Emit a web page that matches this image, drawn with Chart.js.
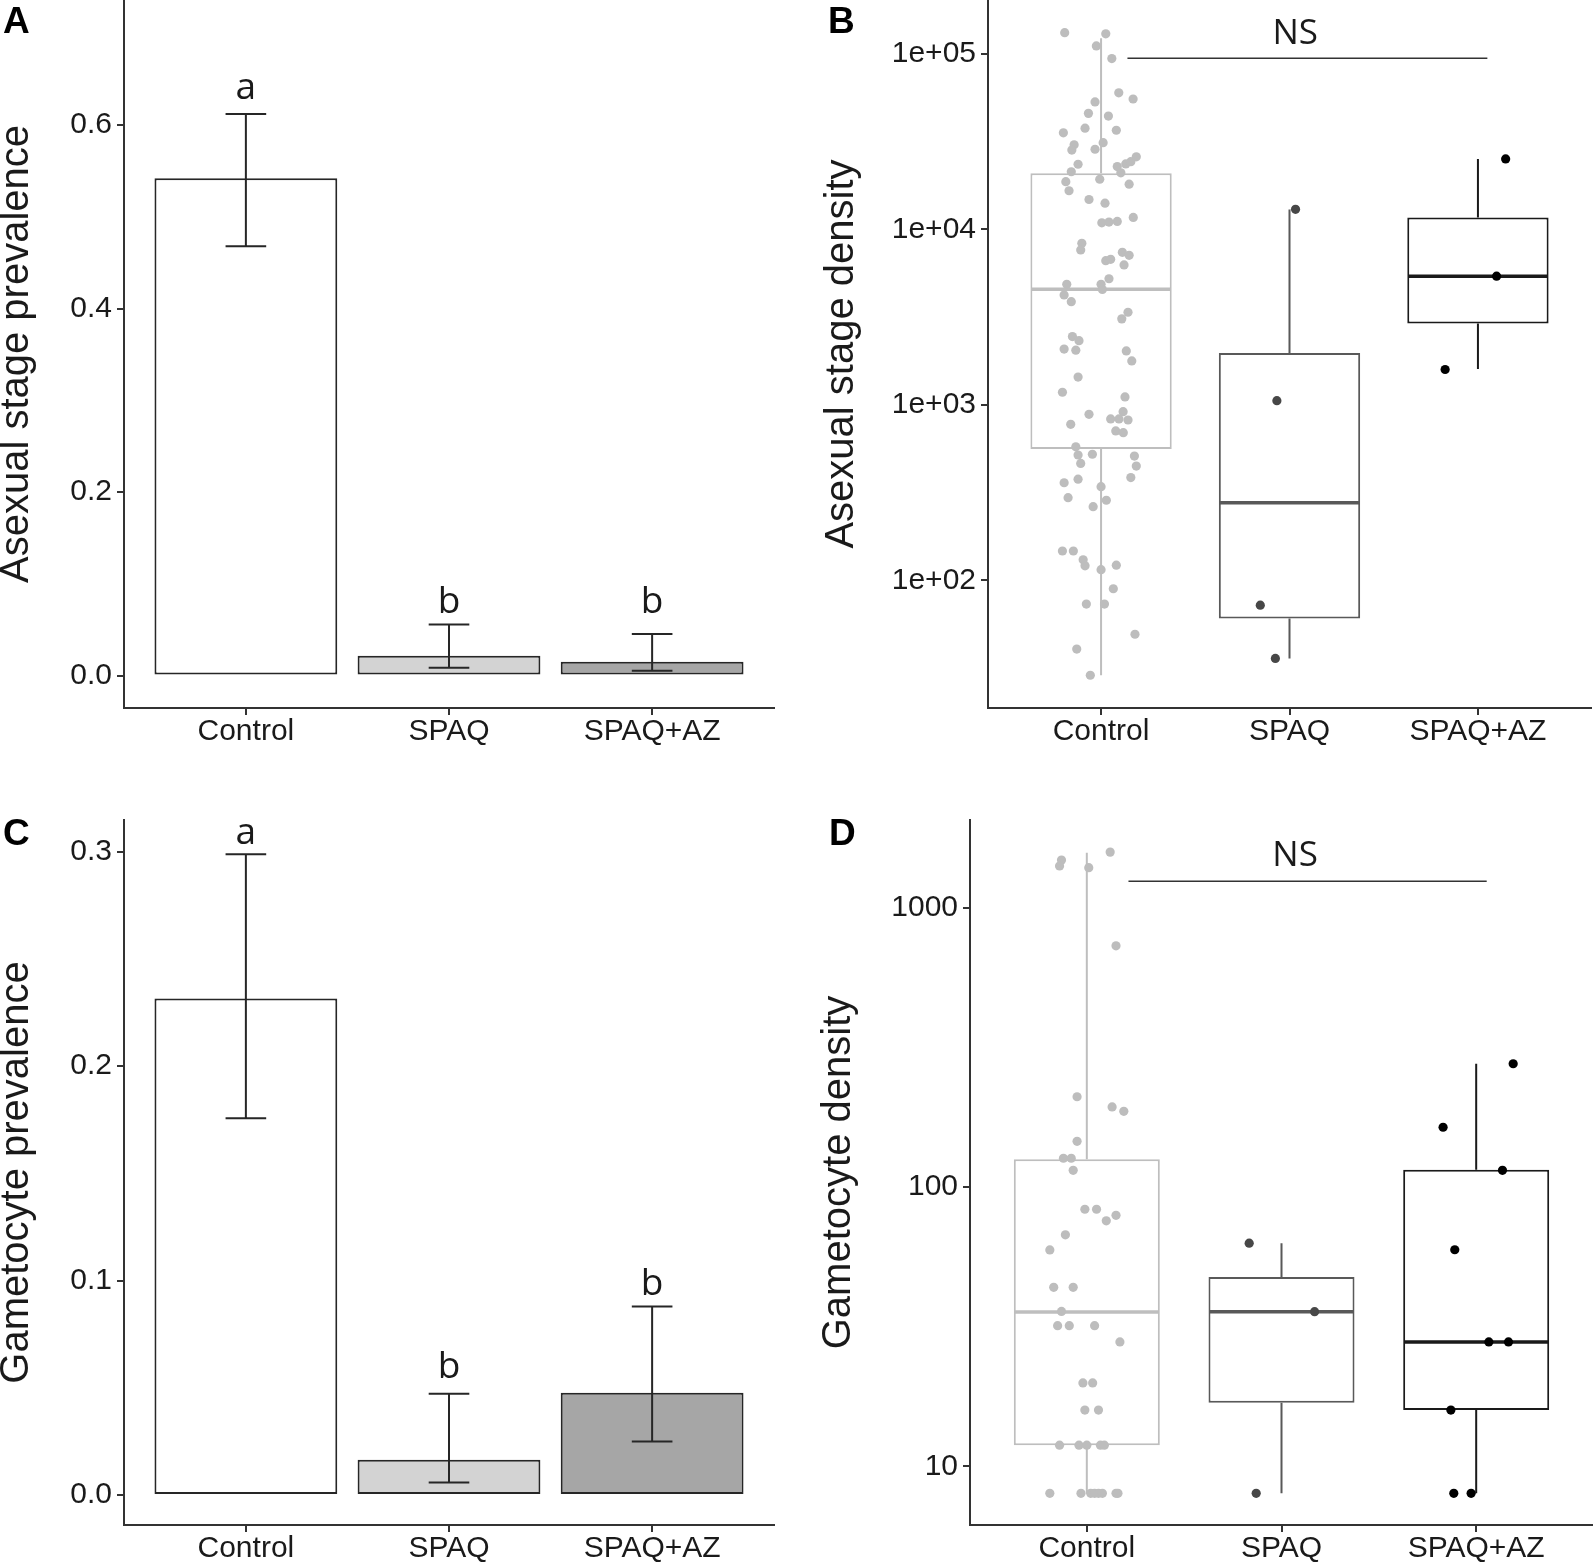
<!DOCTYPE html>
<html>
<head>
<meta charset="utf-8">
<script src="https://cdn.jsdelivr.net/npm/chart.js@4.4.0/dist/chart.umd.min.js"></script>
<style>
  html, body { margin: 0; padding: 0; background: #fff; }
  #wrap { position: relative; width: 1593px; height: 1566px; }
  canvas { position: absolute; }
</style>
</head>
<body>
<div id="wrap">
  <canvas id="panelA" width="796" height="783" style="left:0;top:0"></canvas>
  <canvas id="panelB" width="797" height="783" style="left:796px;top:0"></canvas>
  <canvas id="panelC" width="796" height="783" style="left:0;top:783px"></canvas>
  <canvas id="panelD" width="797" height="783" style="left:796px;top:783px"></canvas>
</div>
<script>
const groups = ['Control', 'SPAQ', 'SPAQ+AZ'];

// A: asexual stage prevalence
const asexPrev = [0.542, 0.0216, 0.0151];
const asexPrevLow = [0.468, 0.0086, 0.0054];
const asexPrevHigh = [0.612, 0.0557, 0.0454];
const asexLetters = ['a', 'b', 'b'];
const asexLetterY = [0.628, 0.068, 0.068];
const asexPrevTicks = [0, 0.2, 0.4, 0.6];
const asexPrevTickLabels = ['0.0', '0.2', '0.4', '0.6'];

// C: gametocyte prevalence
const gamPrev = [0.2315, 0.0164, 0.0477];
const gamPrevLow = [0.1757, 0.0058, 0.025];
const gamPrevHigh = [0.2988, 0.0472, 0.0879];
const gamLetters = ['a', 'b', 'b'];
const gamLetterY = [0.3035, 0.0547, 0.0932];
const gamPrevTicks = [0, 0.1, 0.2, 0.3];
const gamPrevTickLabels = ['0.0', '0.1', '0.2', '0.3'];

// B: asexual stage density (box stats per group)
const asexDensMin = [28.8, 35.9, 1600];
const asexDensQ1 = [560, 60.6, 2906];
const asexDensMed = [4560, 277, 5410];
const asexDensQ3 = [20900, 1977, 11680];
const asexDensMax = [122600, 12960, 25200];
const asexDensControl = [132000, 130000, 111000, 94000, 60000, 55300, 53200, 45800, 44200, 37700,
  36700, 35500, 30300, 28300, 31200, 28600, 23500, 21300, 22800, 23600,
  24300, 25900, 21000, 19300, 18700, 16600, 18100, 14800, 14100, 10900,
  11000, 11100, 11700, 8330, 7630, 6630, 6750, 7400, 7110, 6270,
  5230, 4860, 4860, 4550, 4230, 3870, 3370, 3090, 2450, 2320,
  2080, 2050, 2030, 1780, 1440, 1180, 1110, 883, 775, 914,
  831, 831, 820, 710, 694, 577, 518, 464, 523, 511,
  448, 385, 360, 377, 342, 296, 286, 263, 147, 147,
  131, 121, 115, 122, 89.6, 73.3, 73.3, 49.3, 40.6, 28.8];
const asexDensControlJit = [-0.193, 0.025, -0.025, 0.057, 0.094, 0.170, -0.032, -0.067, 0.039, -0.085,
  0.081, -0.200, -0.143, -0.155, 0.011, -0.032, -0.122, -0.158, 0.086, 0.131,
  0.158, 0.187, 0.105, -0.007, -0.187, -0.170, 0.149, -0.064, 0.021, 0.004,
  0.042, 0.086, 0.171, -0.102, -0.108, 0.025, 0.051, 0.113, 0.149, 0.122,
  0.042, -0.182, 0, 0.007, -0.196, -0.158, 0.143, 0.110, -0.152, -0.117,
  -0.196, -0.134, 0.134, 0.163, -0.122, -0.205, 0.127, -0.064, -0.161, 0.117,
  0.051, 0.095, 0.143, 0.078, 0.118, -0.134, -0.122, -0.108, -0.046, 0.177,
  0.187, 0.158, -0.196, -0.122, 0, -0.175, 0.028, -0.042, -0.205, -0.147,
  -0.095, -0.085, 0, 0.081, 0.065, -0.078, 0.018, 0.180, -0.129, -0.057];
const asexDensSpaq = [13000, 1057, 72.2, 35.9];
const asexDensSpaqJit = [0.032, -0.067, -0.155, -0.075];
const asexDensSpaqAz = [25200, 5410, 1590];
const asexDensSpaqAzJit = [0.147, 0.099, -0.174];
const asexDensTicks = [100, 1000, 10000, 100000];
const asexDensTickLabels = ['1e+02', '1e+03', '1e+04', '1e+05'];

// D: gametocyte density
const gamDensMin = [8, 8, 8];
const gamDensQ1 = [11.9, 16.9, 15.9];
const gamDensMed = [35.7, 35.8, 27.9];
const gamDensQ3 = [126, 47.7, 115.6];
const gamDensMax = [1580, 63, 277];
const gamDensControl = [1487, 1416, 1397, 1588, 733, 211, 194, 187, 146, 127,
  127, 115, 83.4, 83.4, 75.8, 79.3, 67.5, 59.6, 43.8, 43.8,
  35.9, 31.9, 31.9, 31.9, 27.9, 19.9, 19.9, 15.9, 15.9, 11.9,
  11.9, 11.9, 11.9, 11.9, 8, 8, 8, 8, 8, 8, 8, 8];
const gamDensControlJit = [-0.13, -0.14, 0.01, 0.12, 0.15, -0.05, 0.13, 0.19, -0.05, -0.12,
  -0.08, -0.07, -0.01, 0.05, 0.10, 0.15, -0.11, -0.19, -0.17, -0.07,
  -0.13, -0.15, -0.09, 0.04, 0.17, -0.02, 0.03, -0.01, 0.06, -0.14,
  -0.04, 0, 0.07, 0.09, -0.19, -0.03, 0.02, 0.04, 0.06, 0.08, 0.15, 0.16];
const gamDensSpaq = [63, 35.8, 8];
const gamDensSpaqJit = [-0.166, 0.17, -0.13];
const gamDensSpaqAz = [277, 164, 115, 59.7, 27.9, 27.9, 15.9, 8, 8];
const gamDensSpaqAzJit = [0.19, -0.17, 0.135, -0.11, 0.065, 0.166, -0.13, -0.115, -0.026];
const gamDensTicks = [10, 100, 1000];
const gamDensTickLabels = ['10', '100', '1000'];

Chart.defaults.font.family = '"Liberation Sans", Arial, sans-serif';
Chart.defaults.color = '#1a1a1a';

const axisColor = '#333333';

const panelLabel = {
  id: 'panelLabel',
  afterDraw(chart, args, opts) {
    const ctx = chart.ctx;
    ctx.save();
    ctx.fillStyle = '#000';
    ctx.font = 'bold 37px "Liberation Sans", Arial, sans-serif';
    ctx.textAlign = 'left';
    ctx.textBaseline = 'alphabetic';
    ctx.fillText(opts.text, opts.x, opts.y);
    ctx.restore();
  }
};

// error bars and significance letters for the bar panels
const errorBars = {
  id: 'errorBars',
  afterDatasetsDraw(chart, args, opts) {
    const { ctx, scales: { x, y } } = chart;
    ctx.save();
    ctx.strokeStyle = '#262626';
    ctx.lineWidth = 2;
    opts.low.forEach((lo, i) => {
      const cx = x.getPixelForValue(i);
      const half = x.getPixelForValue(i + 0.1) - cx;
      const y1 = y.getPixelForValue(lo);
      const y2 = y.getPixelForValue(opts.high[i]);
      ctx.beginPath();
      ctx.moveTo(cx, y1); ctx.lineTo(cx, y2);
      ctx.moveTo(cx - half, y1); ctx.lineTo(cx + half, y1);
      ctx.moveTo(cx - half, y2); ctx.lineTo(cx + half, y2);
      ctx.stroke();
    });
    ctx.fillStyle = '#1a1a1a';
    ctx.font = '37px "Open Sans", sans-serif';
    ctx.textAlign = 'center';
    ctx.textBaseline = 'alphabetic';
    opts.letters.forEach((t, i) => {
      ctx.fillText(t, x.getPixelForValue(i), y.getPixelForValue(opts.letterY[i]));
    });
    ctx.restore();
  }
};

// whiskers, medians and the NS bracket for the box panels
const boxParts = {
  id: 'boxParts',
  afterDatasetDraw(chart, args, opts) {
    if (args.index !== 0) return;
    const { ctx, scales: { x, y } } = chart;
    ctx.save();
    opts.med.forEach((m, i) => {
      const cx = x.getPixelForValue(i);
      const half = x.getPixelForValue(i + 0.375) - cx;
      ctx.strokeStyle = opts.colors[i];
      ctx.lineWidth = 2;
      ctx.beginPath();
      ctx.moveTo(cx, y.getPixelForValue(opts.q3[i])); ctx.lineTo(cx, y.getPixelForValue(opts.max[i]));
      ctx.moveTo(cx, y.getPixelForValue(opts.q1[i])); ctx.lineTo(cx, y.getPixelForValue(opts.min[i]));
      ctx.stroke();
      const my = y.getPixelForValue(m);
      ctx.lineWidth = 3.5;
      ctx.beginPath();
      ctx.moveTo(cx - half + 1, my); ctx.lineTo(cx + half - 1, my);
      ctx.stroke();
    });
    ctx.restore();
  },
  afterDatasetsDraw(chart, args, opts) {
    const { ctx, scales: { x, y } } = chart;
    const ns = opts.ns;
    ctx.save();
    ctx.strokeStyle = '#333';
    ctx.lineWidth = 1.6;
    const ly = y.getPixelForValue(ns.y);
    ctx.beginPath();
    ctx.moveTo(x.getPixelForValue(ns.x1), ly);
    ctx.lineTo(x.getPixelForValue(ns.x2), ly);
    ctx.stroke();
    ctx.fillStyle = '#1a1a1a';
    ctx.font = '35px "Open Sans", sans-serif';
    ctx.textAlign = 'center';
    ctx.textBaseline = 'alphabetic';
    ctx.fillText('NS', x.getPixelForValue(ns.textX), y.getPixelForValue(ns.textY));
    ctx.restore();
  }
};

function xAxis(height) {
  return {
    type: 'linear',
    min: -0.6,
    max: 2.6,
    offset: false,
    afterBuildTicks: a => { a.ticks = groups.map((g, i) => ({ value: i })); },
    afterFit: a => { a.height = height; a.paddingLeft = 0; a.paddingRight = 0; },
    ticks: {
      callback: v => groups[v],
      color: '#1a1a1a',
      font: { size: 30, lineHeight: 1 },
      padding: 2,
      maxRotation: 0,
      autoSkip: false
    },
    grid: { offset: false, drawOnChartArea: false, tickLength: 7, color: axisColor, lineWidth: 2 },
    border: { color: axisColor, width: 2 }
  };
}

function yAxis(type, min, max, ticks, labels, width, title, titlePad) {
  return {
    type: type,
    min: min,
    max: max,
    afterBuildTicks: a => { a.ticks = ticks.map(v => ({ value: v })); },
    afterFit: a => { a.width = width; a.paddingTop = 0; a.paddingBottom = 0; },
    ticks: {
      callback: (v, i) => labels[i],
      color: '#1a1a1a',
      font: { size: 30, lineHeight: 1 },
      padding: 5,
      autoSkip: false
    },
    grid: { drawOnChartArea: false, tickLength: 7, color: axisColor, lineWidth: 2 },
    border: { color: axisColor, width: 2 },
    title: {
      display: true,
      text: title,
      color: '#1a1a1a',
      font: { size: 40, lineHeight: 0.85 },
      padding: { top: titlePad, bottom: 0 }
    }
  };
}

function barPanel(id, p) {
  new Chart(document.getElementById(id), {
    type: 'bar',
    data: {
      datasets: [{
        data: p.values.map((v, i) => ({ x: i, y: v })),
        backgroundColor: ['#ffffff', '#d3d3d3', '#a6a6a6'],
        borderColor: '#262626',
        borderWidth: 2,
        borderSkipped: false,
        barPercentage: 0.9,
        categoryPercentage: 1.0
      }]
    },
    options: {
      responsive: false,
      devicePixelRatio: 1,
      animation: false,
      layout: { padding: p.padding, autoPadding: false },
      scales: {
        x: xAxis(p.xHeight),
        y: yAxis('linear', p.yMin, p.yMax, p.ticks, p.tickLabels, p.yWidth, p.title, p.titlePad)
      },
      plugins: {
        legend: { display: false },
        tooltip: { enabled: false },
        errorBars: { low: p.low, high: p.high, letters: p.letters, letterY: p.letterY },
        panelLabel: p.label
      }
    },
    plugins: [errorBars, panelLabel]
  });
}

function boxPanel(id, p) {
  const lineColors = ['#bebebe', '#595959', '#1a1a1a'];
  const pointColors = ['#bdbdbd', '#474747', '#000000'];
  const points = p.points.map((vals, g) => ({
    type: 'scatter',
    order: 0,
    data: vals.map((v, i) => ({ x: g + p.jitter[g][i], y: v })),
    pointRadius: 4.6,
    pointBorderWidth: 0,
    pointBackgroundColor: pointColors[g]
  }));
  new Chart(document.getElementById(id), {
    type: 'bar',
    data: {
      datasets: [{
        type: 'bar',
        order: 1,
        data: p.q1.map((q, i) => ({ x: i, y: [q, p.q3[i]] })),
        backgroundColor: '#ffffff',
        borderColor: lineColors,
        borderWidth: 2,
        borderSkipped: false,
        barPercentage: 0.75,
        categoryPercentage: 1.0
      }].concat(points)
    },
    options: {
      responsive: false,
      devicePixelRatio: 1,
      animation: false,
      layout: { padding: p.padding, autoPadding: false },
      scales: {
        x: xAxis(p.xHeight),
        y: yAxis('logarithmic', p.yMin, p.yMax, p.ticks, p.tickLabels, p.yWidth, p.title, p.titlePad)
      },
      plugins: {
        legend: { display: false },
        tooltip: { enabled: false },
        boxParts: { min: p.min, q1: p.q1, med: p.med, q3: p.q3, max: p.max, colors: lineColors, ns: p.ns },
        panelLabel: p.label
      }
    },
    plugins: [boxParts, panelLabel]
  });
}

barPanel('panelA', {
  values: asexPrev, low: asexPrevLow, high: asexPrevHigh,
  letters: asexLetters, letterY: asexLetterY,
  ticks: asexPrevTicks, tickLabels: asexPrevTickLabels,
  yMin: -0.0353, yMax: 0.7362,
  title: 'Asexual stage prevalence', titlePad: 0,
  yWidth: 124, xHeight: 75,
  padding: { top: 0, right: 22, bottom: 0, left: 0 },
  label: { text: 'A', x: 3, y: 33 }
});

boxPanel('panelB', {
  min: asexDensMin, q1: asexDensQ1, med: asexDensMed, q3: asexDensQ3, max: asexDensMax,
  points: [asexDensControl, asexDensSpaq, asexDensSpaqAz],
  jitter: [asexDensControlJit, asexDensSpaqJit, asexDensSpaqAzJit],
  ticks: asexDensTicks, tickLabels: asexDensTickLabels,
  yMin: 18.74, yMax: 202700,
  title: 'Asexual stage density', titlePad: 29,
  yWidth: 192, xHeight: 75,
  padding: { top: 0, right: 2, bottom: 0, left: 0 },
  ns: { x1: 0.14, x2: 2.05, y: 94400, textX: 1.03, textY: 114000 },
  label: { text: 'B', x: 32, y: 33 }
});

barPanel('panelC', {
  values: gamPrev, low: gamPrevLow, high: gamPrevHigh,
  letters: gamLetters, letterY: gamLetterY,
  ticks: gamPrevTicks, tickLabels: gamPrevTickLabels,
  yMin: -0.014, yMax: 0.3148,
  title: 'Gametocyte prevalence', titlePad: 0,
  yWidth: 124, xHeight: 41,
  padding: { top: 37, right: 22, bottom: 0, left: 0 },
  label: { text: 'C', x: 3, y: 62 }
});

boxPanel('panelD', {
  min: gamDensMin, q1: gamDensQ1, med: gamDensMed, q3: gamDensQ3, max: gamDensMax,
  points: [gamDensControl, gamDensSpaq, gamDensSpaqAz],
  jitter: [gamDensControlJit, gamDensSpaqJit, gamDensSpaqAzJit],
  ticks: gamDensTicks, tickLabels: gamDensTickLabels,
  yMin: 6.16, yMax: 2070,
  title: 'Gametocyte density', titlePad: 26,
  yWidth: 174, xHeight: 41,
  padding: { top: 37, right: 0, bottom: 0, left: 0 },
  ns: { x1: 0.214, x2: 2.054, y: 1249, textX: 1.07, textY: 1415 },
  label: { text: 'D', x: 33, y: 62 }
});
</script>
</body>
</html>
